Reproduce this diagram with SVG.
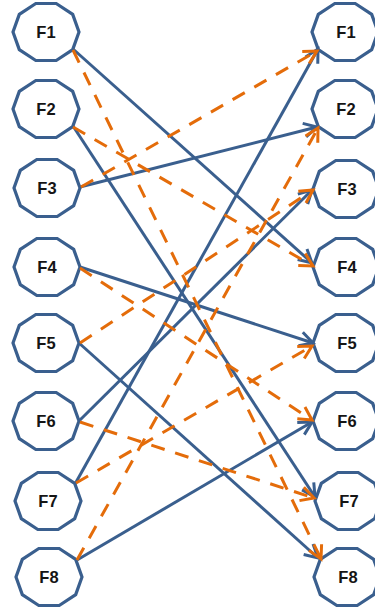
<svg xmlns="http://www.w3.org/2000/svg" xmlns:xlink="http://www.w3.org/1999/xlink" width="375" height="611" viewBox="0 0 375 611">
  <style>
    .node { fill: #ffffff; stroke: #3a5f8e; stroke-width: 3.2; }
    .label { font-family: "Liberation Sans", Arial, sans-serif; font-weight: bold; font-size: 16.5px; fill: #151515; text-anchor: middle; }
    .solid { stroke: #3a5f8e; stroke-width: 3; fill: none; marker-end: url(#headBlue); }
    .dash { stroke: #e46c0a; stroke-width: 3; fill: none; stroke-dasharray: 14 11; marker-end: url(#headOrange); }
  </style>
  <defs>
    <!-- decagon outline shared by every node -->
    <polygon id="dec" points="33,0 26.7,17.6 10.2,28.5 -10.2,28.5 -26.7,17.6 -33,0 -26.7,-17.6 -10.2,-28.5 10.2,-28.5 26.7,-17.6"/>
    <marker id="headBlue" markerUnits="userSpaceOnUse" markerWidth="22" markerHeight="22" viewBox="-18 -11 22 22" refX="0" refY="0" orient="auto" overflow="visible">
      <path d="M-13,-7 L0,0 L-13,7" fill="none" stroke="#3a5f8e" stroke-width="3" stroke-linejoin="miter"/>
    </marker>
    <marker id="headOrange" markerUnits="userSpaceOnUse" markerWidth="22" markerHeight="22" viewBox="-18 -11 22 22" refX="0" refY="0" orient="auto" overflow="visible">
      <path d="M-13,-7 L0,0 L-13,7" fill="none" stroke="#e46c0a" stroke-width="3" stroke-dasharray="none" stroke-linejoin="miter"/>
    </marker>
  </defs>

  <!-- left column -->
  <g id="L1"><use xlink:href="#dec" class="node" transform="translate(46,32)"/><text class="label" x="46" y="38">F1</text></g>
  <g id="L2"><use xlink:href="#dec" class="node" transform="translate(46,109)"/><text class="label" x="46" y="115">F2</text></g>
  <g id="L3"><use xlink:href="#dec" class="node" transform="translate(47,188)"/><text class="label" x="47" y="194">F3</text></g>
  <g id="L4"><use xlink:href="#dec" class="node" transform="translate(47,267)"/><text class="label" x="47" y="273">F4</text></g>
  <g id="L5"><use xlink:href="#dec" class="node" transform="translate(46,343)"/><text class="label" x="46" y="349">F5</text></g>
  <g id="L6"><use xlink:href="#dec" class="node" transform="translate(46,421)"/><text class="label" x="46" y="427">F6</text></g>
  <g id="L7"><use xlink:href="#dec" class="node" transform="translate(48,501)"/><text class="label" x="48" y="507">F7</text></g>
  <g id="L8"><use xlink:href="#dec" class="node" transform="translate(49,577)"/><text class="label" x="49" y="583">F8</text></g>

  <!-- right column -->
  <g id="R1"><use xlink:href="#dec" class="node" transform="translate(345,32)"/><text class="label" x="346" y="38">F1</text></g>
  <g id="R2"><use xlink:href="#dec" class="node" transform="translate(345,109)"/><text class="label" x="346" y="115">F2</text></g>
  <g id="R3"><use xlink:href="#dec" class="node" transform="translate(346,189)"/><text class="label" x="347" y="195">F3</text></g>
  <g id="R4"><use xlink:href="#dec" class="node" transform="translate(346,267)"/><text class="label" x="347" y="273">F4</text></g>
  <g id="R5"><use xlink:href="#dec" class="node" transform="translate(346,343)"/><text class="label" x="347" y="349">F5</text></g>
  <g id="R6"><use xlink:href="#dec" class="node" transform="translate(346,421)"/><text class="label" x="347" y="427">F6</text></g>
  <g id="R7"><use xlink:href="#dec" class="node" transform="translate(348,501)"/><text class="label" x="349" y="507">F7</text></g>
  <g id="R8"><use xlink:href="#dec" class="node" transform="translate(347,577)"/><text class="label" x="348" y="583">F8</text></g>

  <g id="connectors">
    <!-- solid links -->
    <line class="solid" x1="73" y1="49" x2="312" y2="263"/>
    <line class="solid" x1="73" y1="126" x2="315" y2="497"/>
    <line class="solid" x1="80" y1="187" x2="317" y2="127"/>
    <line class="solid" x1="80" y1="267" x2="313" y2="343"/>
    <line class="solid" x1="79" y1="343" x2="318" y2="558"/>
    <line class="solid" x1="79" y1="421" x2="312" y2="190"/>
    <line class="solid" x1="75" y1="484" x2="318" y2="49"/>
    <line class="solid" x1="77" y1="560" x2="312" y2="422"/>
    <!-- dashed links -->
    <line class="dash" x1="73" y1="50" x2="321" y2="559"/>
    <line class="dash" x1="73" y1="127" x2="313" y2="266"/>
    <line class="dash" x1="81" y1="187" x2="317" y2="51"/>
    <line class="dash" x1="80" y1="268" x2="312" y2="420"/>
    <line class="dash" x1="80" y1="343" x2="313" y2="190"/>
    <line class="dash" x1="80" y1="422" x2="314" y2="498"/>
    <line class="dash" x1="76" y1="483" x2="312" y2="346"/>
    <line class="dash" x1="77" y1="560" x2="318" y2="128"/>
  </g>
</svg>
